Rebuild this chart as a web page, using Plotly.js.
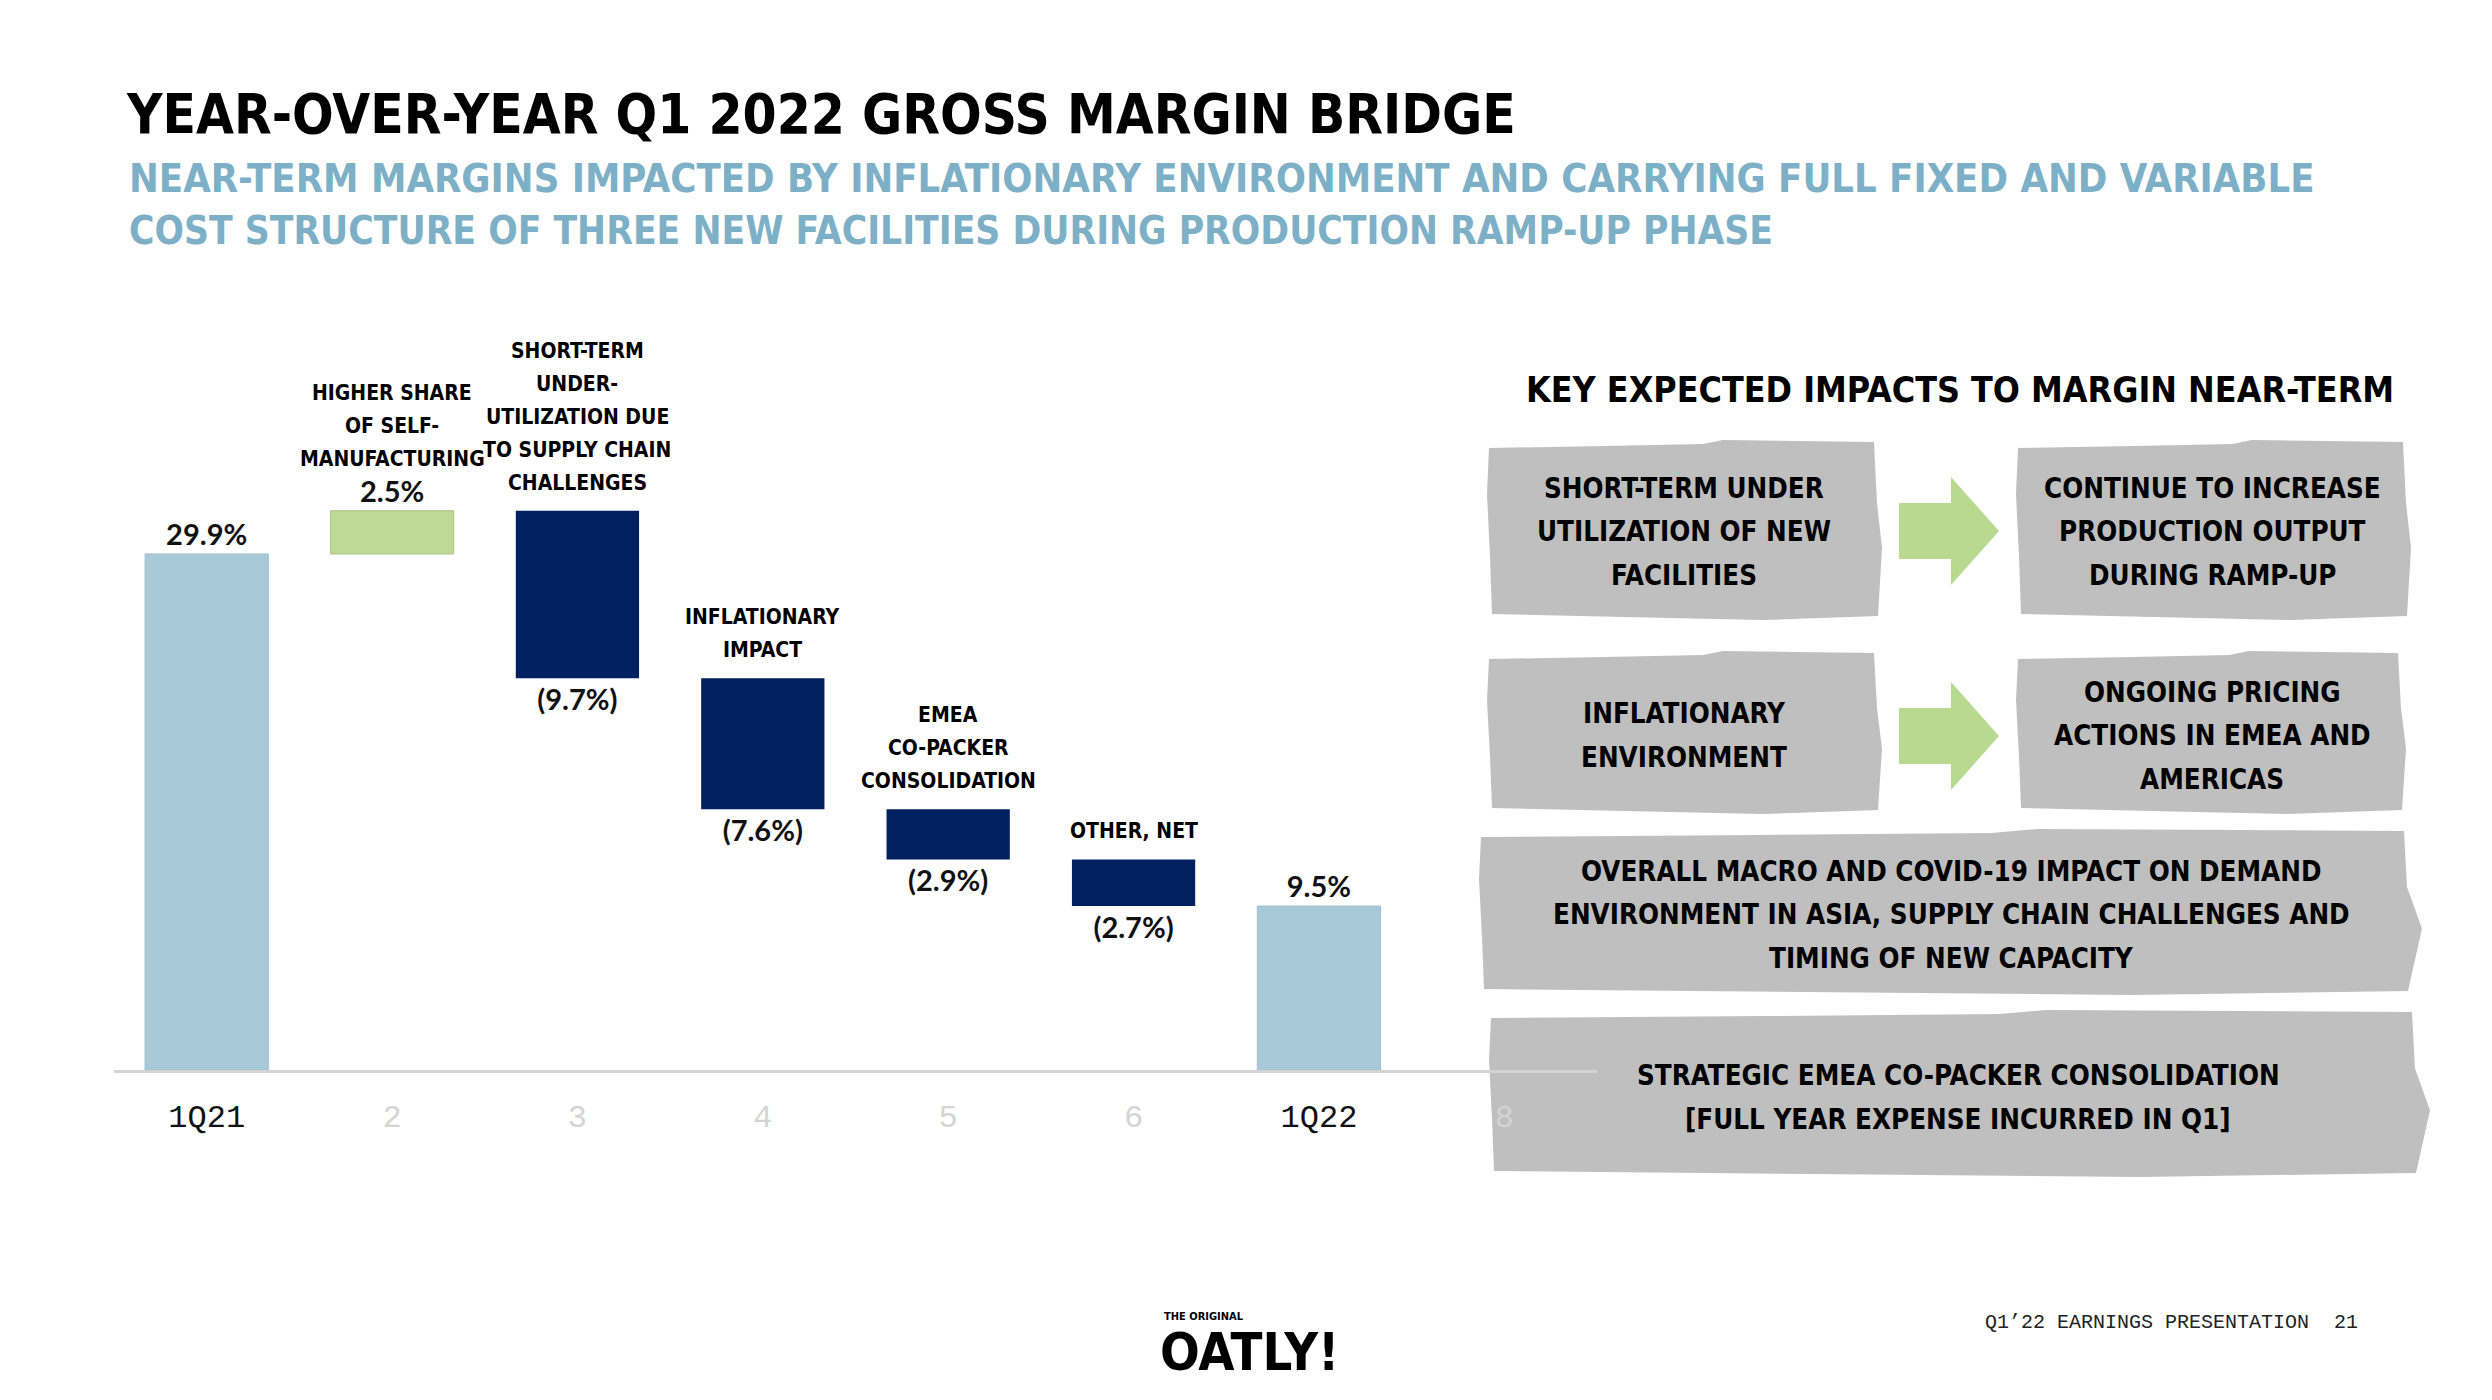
<!DOCTYPE html>
<html><head><meta charset="utf-8">
<script src="https://cdn.plot.ly/plotly-3.0.1.min.js"></script>
<style>html,body{margin:0;padding:0;background:#fff;}</style>
</head><body>
<div id="chart" style="width:2492px;height:1400px"></div>
<script>
// ---------- data ----------
const steps = [1, 2, 3, 4, 5, 6, 7];
const measures = ["absolute", "relative", "relative", "relative", "relative", "relative", "total"];
const values = [29.9, 2.5, -9.7, -7.6, -2.9, -2.7, 9.5];
const stepLabels = [
  [],
  ["HIGHER SHARE", "OF SELF-", "MANUFACTURING"],
  ["SHORT-TERM", "UNDER-", "UTILIZATION DUE", "TO SUPPLY CHAIN", "CHALLENGES"],
  ["INFLATIONARY", "IMPACT"],
  ["EMEA", "CO-PACKER", "CONSOLIDATION"],
  ["OTHER, NET"],
  []
];
const tickVals = [1, 2, 3, 4, 5, 6, 7, 8];
const tickLabels = ["1Q21", "2", "3", "4", "5", "6", "1Q22", "8"];
const faintTicks = [false, true, true, true, true, true, false, true];

const titleText = "YEAR-OVER-YEAR Q1 2022 GROSS MARGIN BRIDGE";
const subtitleLines = [
  "NEAR-TERM MARGINS IMPACTED BY INFLATIONARY ENVIRONMENT AND CARRYING FULL FIXED AND VARIABLE",
  "COST STRUCTURE OF THREE NEW FACILITIES DURING PRODUCTION RAMP-UP PHASE"
];
const panelTitle = "KEY EXPECTED IMPACTS TO MARGIN NEAR-TERM";
const impactTexts = [
  ["SHORT-TERM UNDER", "UTILIZATION OF NEW", "FACILITIES"],
  ["CONTINUE TO INCREASE", "PRODUCTION OUTPUT", "DURING RAMP-UP"],
  ["INFLATIONARY", "ENVIRONMENT"],
  ["ONGOING PRICING", "ACTIONS IN EMEA AND", "AMERICAS"],
  ["OVERALL MACRO AND COVID-19 IMPACT ON DEMAND", "ENVIRONMENT IN ASIA, SUPPLY CHAIN CHALLENGES AND", "TIMING OF NEW CAPACITY"],
  ["STRATEGIC EMEA CO-PACKER CONSOLIDATION", "[FULL YEAR EXPENSE INCURRED IN Q1]"]
];
const footerText = "Q1’22 EARNINGS PRESENTATION";
const pageNumber = "21";

// ---------- layout geometry (pixels) ----------
const L = 114, R = 1597, T = 300, B = 1070;
const W = R - L, H = B - T;
const px = x => (x - L) / W;
const py = y => (B - y) / H;

const COND = '"Liberation Sans Narrow", "Arial Narrow", "DejaVu Sans Condensed", "Roboto Condensed", sans-serif';
const NUM = 'Lato, "Open Sans", sans-serif';
const MONO = '"Liberation Mono", "DejaVu Sans Mono", monospace';

const fmt = v => v >= 0 ? v.toFixed(1) + "%" : "(" + Math.abs(v).toFixed(1) + "%)";

// cumulative tops for step label placement
let run = 0;
const tops = values.map((v, i) => {
  let top;
  if (measures[i] === "absolute") { run = v; top = v; }
  else if (measures[i] === "relative") { top = Math.max(run, run + v); run += v; }
  else { top = run; }
  return top;
});

const trace = {
  type: "waterfall",
  x: steps,
  y: values,
  measure: measures,
  text: values.map(fmt),
  textposition: "outside",
  textfont: { family: NUM, size: 29, color: "#111111", weight: 700 },
  cliponaxis: false,
  connector: { visible: false },
  increasing: { marker: { color: "#bdd995", line: { color: "#a8c482", width: 1 } } },
  decreasing: { marker: { color: "#002060", line: { color: "#002060", width: 0 } } },
  totals: { marker: { color: "#a8cad8", line: { color: "#9dc0ce", width: 1 } } },
  hoverinfo: "skip"
};

const annotations = [];
const LAB_PITCH = 33;
// step labels above bars, one annotation per line
stepLabels.forEach((lines, i) => {
  const n = lines.length;
  const base = values[i] > 0 ? 52 : 28;
  lines.forEach((t, k) => {
    annotations.push({
      x: steps[i], y: tops[i], xref: "x", yref: "y",
      text: t, showarrow: false, yanchor: "middle", xanchor: "center",
      yshift: base + (n - 1 - k) * LAB_PITCH,
      font: { family: COND, size: 21, color: "#000", weight: 700 }
    });
  });
});

function ann(text, x, y, size, opts) {
  return Object.assign({
    xref: "paper", yref: "paper", x: px(x), y: py(y), text: text, showarrow: false,
    xanchor: "center", yanchor: "middle", align: "center",
    font: { family: COND, size: size, color: "#000", weight: 700 }
  }, opts || {});
}
function multi(lines, cx, cy, size, pitch) {
  const n = lines.length;
  lines.forEach((t, k) => annotations.push(ann(t, cx, cy + (k - (n - 1) / 2) * pitch, size)));
}

// subtitle
const subY = [178, 231];
const subSize = [39.6, 38.6];
subtitleLines.forEach((t, k) => annotations.push(ann(t, 127, subY[k], subSize[k], {
  xanchor: "left", align: "left",
  font: { family: COND, size: subSize[k], color: "#7db0c6", weight: 700 }
})));
// panel title
annotations.push(ann(panelTitle, 1960, 389, 35.5));
// box texts
const boxCenters = [[1684, 531], [2212, 531], [1684, 735], [2212, 735], [1951, 914], [1958, 1097]];
impactTexts.forEach((lines, i) => multi(lines, boxCenters[i][0], boxCenters[i][1], 27.5, 43.5));
// footer
annotations.push(ann(footerText, 1983, 1322, 20, { xanchor: "left", font: { family: MONO, size: 20, color: "#222" } }));
annotations.push(ann(pageNumber, 2360, 1322, 20, { xanchor: "right", font: { family: MONO, size: 20, color: "#222" } }));
// logo
annotations.push(ann("THE ORIGINAL", 1162, 1316, 11, { xanchor: "left", font: { family: COND, size: 11, color: "#000", weight: 700 } }));
annotations.push(ann("OATLY!", 1158, 1352, 52, { xanchor: "left", font: { family: COND, size: 52, color: "#000", weight: 800 } }));

// rough gray boxes
function poly(pts) {
  return "M" + pts.map(p => px(p[0]).toFixed(5) + "," + py(p[1]).toFixed(5)).join(" L") + " Z";
}
function roughBox(x0, y0, x1, y1, notch) {
  const w = x1 - x0, h = y1 - y0;
  const pts = [
    [x0 + 2, y0 + 8], [x0 + 0.3 * w, y0 + 6], [x0 + 0.55 * w, y0 + 4], [x0 + 0.6 * w, y0], [x1 - 6, y0 + 2],
    [x1 - 3, y0 + 0.35 * h], [x1 + (notch ? 12 : 2), y0 + 0.6 * h], [x1 - 2, y1 - 4],
    [x0 + 0.7 * w, y1], [x0 + 0.35 * w, y1 - 3], [x0 + 5, y1 - 6],
    [x0 + 3, y0 + 0.65 * h], [x0, y0 + 0.3 * h]
  ];
  return { type: "path", xref: "paper", yref: "paper", path: poly(pts), fillcolor: "#bfbfbf", line: { width: 0 }, layer: "below" };
}
function arrow(x0, yc) {
  const pts = [[x0, yc - 28], [x0 + 52, yc - 28], [x0 + 52, yc - 54], [x0 + 100, yc], [x0 + 52, yc + 54], [x0 + 52, yc + 28], [x0, yc + 28]];
  return { type: "path", xref: "paper", yref: "paper", path: poly(pts), fillcolor: "#b9d890", line: { width: 0 }, layer: "below" };
}
const shapes = [
  roughBox(1487, 440, 1880, 620, false),
  roughBox(2016, 440, 2409, 620, false),
  roughBox(1487, 651, 1880, 814, false),
  roughBox(2016, 651, 2404, 814, false),
  roughBox(1479, 829, 2410, 995, true),
  roughBox(1489, 1010, 2418, 1177, true),
  arrow(1899, 531),
  arrow(1899, 736)
];

const layout = {
  width: 2492, height: 1400,
  paper_bgcolor: "#ffffff", plot_bgcolor: "rgba(0,0,0,0)",
  margin: { l: L, r: 2492 - R, t: T, b: 1400 - B, autoexpand: false },
  showlegend: false,
  title: {
    text: titleText, xref: "container", yref: "container",
    x: 127 / 2492, xanchor: "left", y: 1 - 114 / 1400, yanchor: "middle",
    font: { family: COND, size: 54.5, color: "#000", weight: 800 }
  },
  waterfallgap: 0.335,
  xaxis: {
    range: [0.5, 8.5], tickmode: "array", tickvals: tickVals,
    ticktext: tickLabels.map((t, i) => faintTicks[i] ? "<span style='color:#d4d4d4'>" + t + "</span>" : t),
    tickfont: { family: MONO, size: 32, color: "#111" },
    showline: true, linecolor: "#d4d4d4", linewidth: 3,
    ticks: "", showgrid: false, zeroline: false, ticklabelstandoff: 16, fixedrange: true
  },
  yaxis: { range: [0, H / 17.26], visible: false, fixedrange: true },
  annotations: annotations,
  shapes: shapes
};

Plotly.newPlot("chart", [trace], layout, { displayModeBar: false, staticPlot: true });
</script>
</body></html>
